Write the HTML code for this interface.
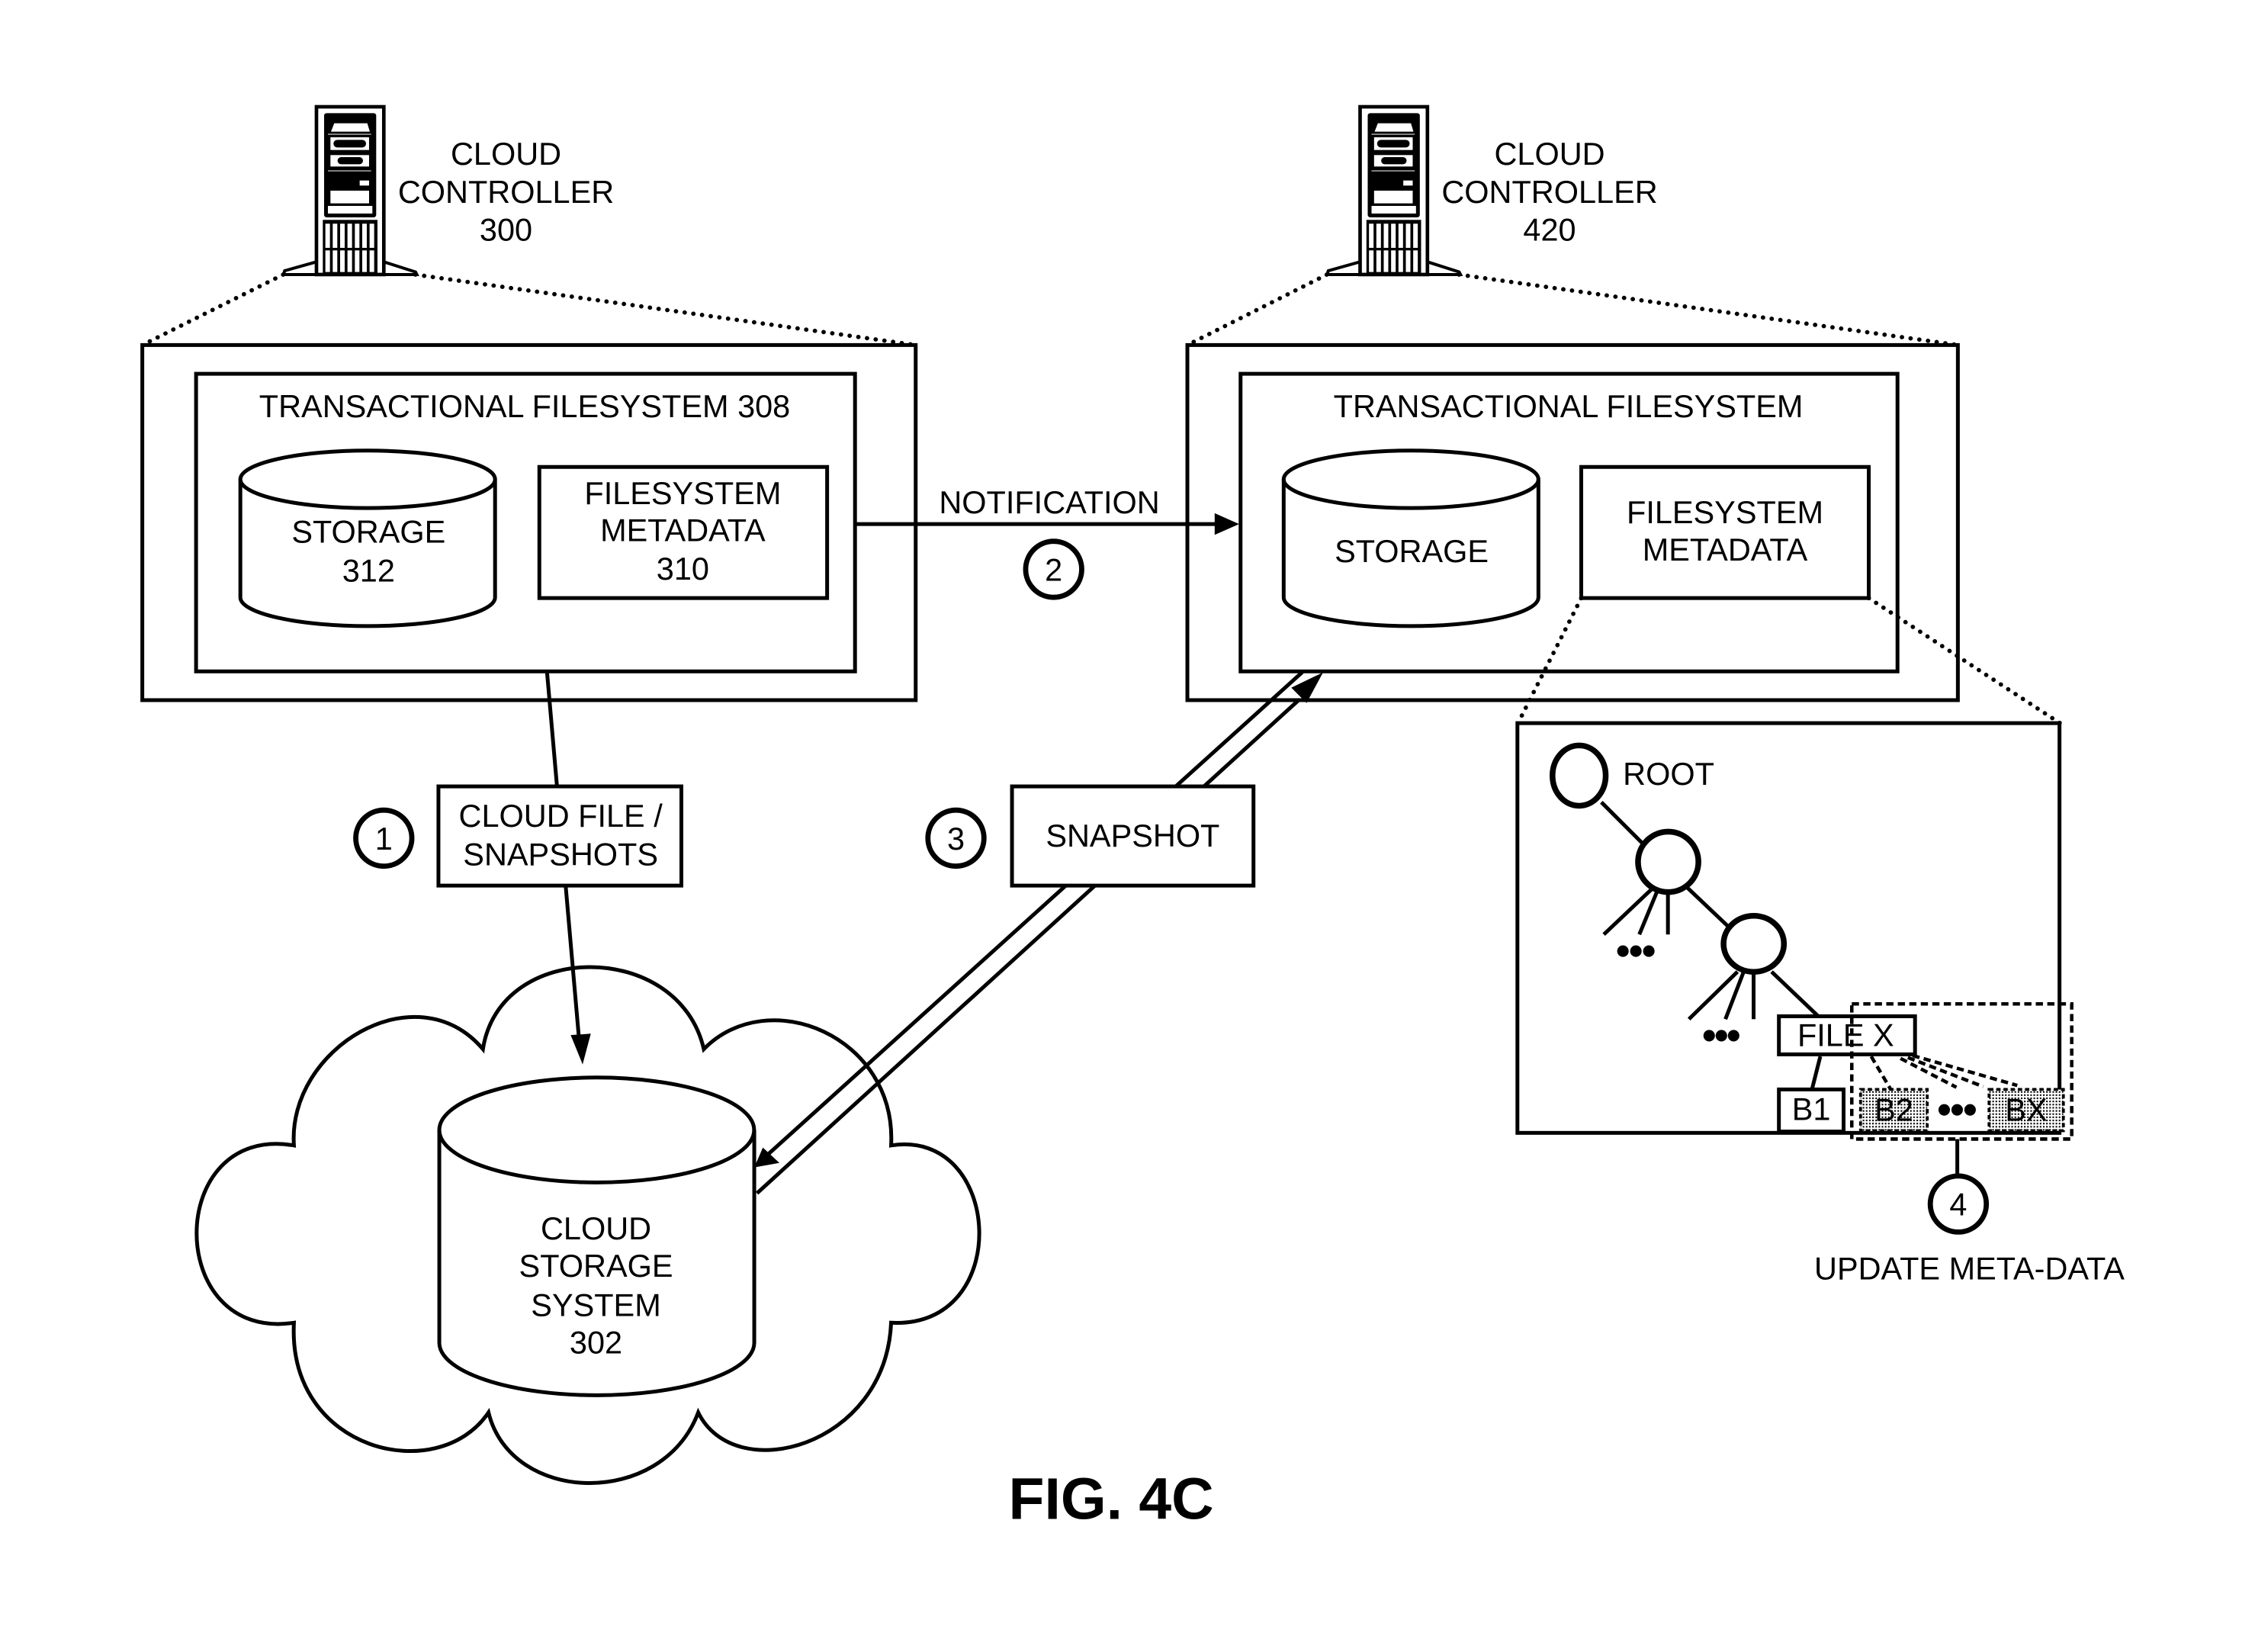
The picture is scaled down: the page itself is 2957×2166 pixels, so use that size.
<!DOCTYPE html>
<html><head><meta charset="utf-8"><style>html,body{margin:0;padding:0;background:#fff}svg{display:block}</style></head>
<body>
<svg xmlns="http://www.w3.org/2000/svg" width="2957" height="2166" viewBox="0 0 1568.7 1149.1" preserveAspectRatio="none">
<defs>
<pattern id="dots" width="2.2" height="2.2" patternUnits="userSpaceOnUse"><rect width="2.2" height="2.2" fill="#fff"/><rect width="1.1" height="1.1" fill="#000"/></pattern>
<g id="srv">
<rect x="165" y="30" width="265" height="660" fill="#fff" stroke="#000" stroke-width="14"/>
<rect x="195" y="55" width="205" height="410" rx="10" fill="#000"/>
<polygon points="235,95 365,95 375,128 222,128" fill="#fff"/>
<line x1="210" y1="138" x2="380" y2="138" stroke="#fff" stroke-width="3"/>
<rect x="220" y="150" width="152" height="50" fill="#fff"/>
<rect x="232" y="160" width="128" height="30" rx="15" fill="#000"/>
<rect x="220" y="220" width="152" height="45" fill="#fff"/>
<rect x="248" y="228" width="100" height="28" rx="14" fill="#000"/>
<line x1="210" y1="282" x2="380" y2="282" stroke="#fff" stroke-width="3"/>
<rect x="335" y="320" width="37" height="20" fill="#fff"/>
<rect x="220" y="360" width="152" height="50" fill="#fff"/>
<rect x="210" y="420" width="175" height="30" fill="#fff"/>
<rect x="190" y="475" width="215" height="215" fill="#000"/>
<g fill="#fff">
<rect x="200" y="490" width="18" height="95"/><rect x="229" y="490" width="18" height="95"/><rect x="258" y="490" width="18" height="95"/><rect x="287" y="490" width="18" height="95"/><rect x="316" y="490" width="18" height="95"/><rect x="345" y="490" width="18" height="95"/><rect x="374" y="490" width="18" height="95"/>
<rect x="200" y="595" width="18" height="85"/><rect x="229" y="595" width="18" height="85"/><rect x="258" y="595" width="18" height="85"/><rect x="287" y="595" width="18" height="85"/><rect x="316" y="595" width="18" height="85"/><rect x="345" y="595" width="18" height="85"/><rect x="374" y="595" width="18" height="85"/>
</g>
<polyline points="165,640 40,675 35,690 560,690 555,680 430,640" fill="none" stroke="#000" stroke-width="12"/>
</g>
</defs>

<g font-family="'Liberation Sans', Arial, sans-serif" font-size="22" fill="#000" text-anchor="middle">

<!-- Servers -->
<use href="#srv" transform="translate(190.98,68.97) scale(0.1768)"/>
<use href="#srv" transform="translate(916.98,68.97) scale(0.1768)"/>
<text x="352" y="114.5">CLOUD</text><text x="352" y="141">CONTROLLER</text><text x="352" y="167.5">300</text>
<text x="1078" y="114.5">CLOUD</text><text x="1078" y="141">CONTROLLER</text><text x="1078" y="167.5">420</text>

<g fill="none" stroke="#000" stroke-width="3" stroke-dasharray="0.1 6" stroke-linecap="round">
<line x1="197" y1="191" x2="99" y2="240"/><line x1="289" y1="191" x2="637" y2="240"/>
<line x1="923" y1="191" x2="826" y2="240"/><line x1="1015" y1="191" x2="1362" y2="240"/>
<line x1="1100" y1="416" x2="1056" y2="503"/><line x1="1300" y1="416" x2="1433" y2="503"/>
</g>

<g fill="none" stroke="#000" stroke-width="2.65">
<!-- left controller -->
<rect x="99" y="240" width="538" height="247"/>
<rect x="136.4" y="260" width="458.4" height="207"/>
<rect x="375.2" y="324.8" width="200.2" height="91.2"/>
<path d="M167.2,333.4 L167.2,415.5 A88.6,20 0 0 0 344.4,415.5 L344.4,333.4"/>
<ellipse cx="255.8" cy="333.4" rx="88.6" ry="20"/>
<!-- right controller -->
<rect x="826" y="240" width="536" height="247"/>
<rect x="863" y="260" width="457" height="207"/>
<rect x="1100" y="324.8" width="200" height="91.2"/>
<path d="M893,333.4 L893,415.5 A88.6,20 0 0 0 1070.2,415.5 L1070.2,333.4"/>
<ellipse cx="981.6" cy="333.4" rx="88.6" ry="20"/>
<!-- notification -->
<line x1="594.8" y1="364.5" x2="850" y2="364.5"/>
<!-- connector 1 -->
<line x1="380.5" y1="467" x2="403" y2="725"/>
<!-- double line -->
<line x1="906" y1="467.5" x2="532" y2="805"/>
<line x1="904" y1="486.5" x2="526.6" y2="830"/>
</g>
<polygon points="862,364.5 845,357 845,372" fill="#000"/>
<polygon points="405.3,740.4 397,720 411,719" fill="#000"/>
<polygon points="920.4,467.7 898.3,478.3 908.9,489" fill="#000"/>
<polygon points="524.7,812 530.7,798.2 542.2,808.9" fill="#000"/>

<text x="365" y="290.2">TRANSACTIONAL FILESYSTEM 308</text>
<text x="256.4" y="377.4">STORAGE</text><text x="256.4" y="404.4">312</text>
<text x="475" y="350.7">FILESYSTEM</text><text x="475" y="376.5">METADATA</text><text x="475" y="403.2">310</text>
<text x="1091" y="290.2">TRANSACTIONAL FILESYSTEM</text>
<text x="982" y="391">STORAGE</text>
<text x="1200" y="364">FILESYSTEM</text><text x="1200" y="390">METADATA</text>
<text x="730" y="357">NOTIFICATION</text>

<!-- cloud -->
<g transform="translate(122,583.6) scale(0.389,0.3045)">
<path d="M212,700 C200,480 430,300 550,480 C580,230 900,230 945,480 C1060,330 1290,450 1280,700 C1480,660 1500,1120 1280,1105 C1270,1390 1000,1480 935,1310 C870,1530 600,1520 560,1310 C470,1480 200,1400 212,1105 C-20,1150 -20,650 212,700 Z" fill="none" stroke="#000" stroke-width="5" vector-effect="non-scaling-stroke"/>
</g>
<g fill="none" stroke="#000" stroke-width="2.65">
<path d="M305.6,786 L305.6,934 A109.5,36.5 0 0 0 524.7,934 L524.7,786"/>
<ellipse cx="415.1" cy="786" rx="109.5" ry="36.5"/>
</g>
<text x="414.6" y="862">CLOUD</text><text x="414.6" y="888">STORAGE</text><text x="414.6" y="915.5">SYSTEM</text><text x="414.6" y="941.4">302</text>

<!-- boxes on connectors -->
<rect x="305" y="547" width="169" height="69" fill="#fff" stroke="#000" stroke-width="2.65"/>
<text x="390" y="575">CLOUD FILE /</text><text x="390" y="602">SNAPSHOTS</text>
<rect x="704" y="547" width="168" height="69" fill="#fff" stroke="#000" stroke-width="2.65"/>
<text x="788" y="589">SNAPSHOT</text>

<!-- numbered circles -->
<g fill="#fff" stroke="#000" stroke-width="3.6">
<circle cx="267" cy="583" r="19.5"/><circle cx="665" cy="583" r="19.5"/><circle cx="733" cy="396" r="19.5"/><circle cx="1362.3" cy="837.5" r="19.5"/>
</g>
<text x="267" y="591">1</text><text x="665" y="591">3</text><text x="733" y="404">2</text><text x="1362.3" y="845.5">4</text>

<!-- tree box -->
<g fill="none" stroke="#000" stroke-width="2.65">
<rect x="1055.6" y="503" width="377.1" height="285"/>
<line x1="1114" y1="558" x2="1143" y2="587"/>
<line x1="1149.5" y1="618" x2="1115.7" y2="650"/><line x1="1153.6" y1="618" x2="1140.4" y2="650"/><line x1="1160.3" y1="618" x2="1160.3" y2="650"/>
<line x1="1173.2" y1="616.9" x2="1202" y2="644.2"/>
<line x1="1208.7" y1="675.9" x2="1174.9" y2="708.9"/><line x1="1213" y1="675.9" x2="1200.3" y2="708.9"/><line x1="1219.9" y1="675.9" x2="1219.9" y2="708.9"/>
<line x1="1232.4" y1="675.9" x2="1264.6" y2="706.6"/>
<line x1="1266.3" y1="734.8" x2="1260.5" y2="757.8"/>
<line x1="1361.6" y1="792.3" x2="1361.6" y2="818.2"/>
</g>
<g fill="#fff" stroke="#000" stroke-width="4">
<ellipse cx="1098.5" cy="539.5" rx="18.5" ry="21"/>
<ellipse cx="1160.5" cy="599.5" rx="21" ry="21"/>
<ellipse cx="1220" cy="656.5" rx="21" ry="19.5"/>
</g>
<g fill="#000">
<circle cx="1129" cy="661.6" r="4"/><circle cx="1138" cy="661.6" r="4"/><circle cx="1147" cy="661.6" r="4"/>
<circle cx="1189" cy="720.4" r="4"/><circle cx="1197.5" cy="720.4" r="4"/><circle cx="1206" cy="720.4" r="4"/>
<circle cx="1352.5" cy="772" r="4"/><circle cx="1361.5" cy="772" r="4"/><circle cx="1370.5" cy="772" r="4"/>
</g>
<text x="1129" y="546" text-anchor="start">ROOT</text>
<rect x="1237.5" y="706.9" width="94.7" height="26.5" fill="#fff" stroke="#000" stroke-width="2.65"/>
<text x="1284" y="727.6">FILE X</text>
<rect x="1237.5" y="757.8" width="45" height="29.3" fill="#fff" stroke="#000" stroke-width="2.65"/>
<text x="1260" y="779">B1</text>
<rect x="1294.3" y="757.8" width="46.4" height="28.7" fill="url(#dots)" stroke="#000" stroke-width="2" stroke-dasharray="3 2"/>
<rect x="1383.7" y="757.8" width="51.7" height="28.7" fill="url(#dots)" stroke="#000" stroke-width="2" stroke-dasharray="3 2"/>
<text x="1317.5" y="779.5">B2</text><text x="1409.5" y="779.5">BX</text>
<g fill="none" stroke="#000" stroke-width="2.4" stroke-dasharray="5 3">
<rect x="1288.2" y="698.3" width="153" height="94"/>
<line x1="1301.7" y1="734.8" x2="1315.3" y2="757.8"/>
<line x1="1322.1" y1="736.2" x2="1361" y2="756.3"/>
<line x1="1327.2" y1="735.6" x2="1379.6" y2="755.8"/>
<line x1="1330.5" y1="734.2" x2="1403.3" y2="755"/>
</g>
<text x="1370" y="890">UPDATE META-DATA</text>

<text x="773" y="1056.6" font-size="40.8" font-weight="bold">FIG. 4C</text>
</g>
</svg>
</body></html>
